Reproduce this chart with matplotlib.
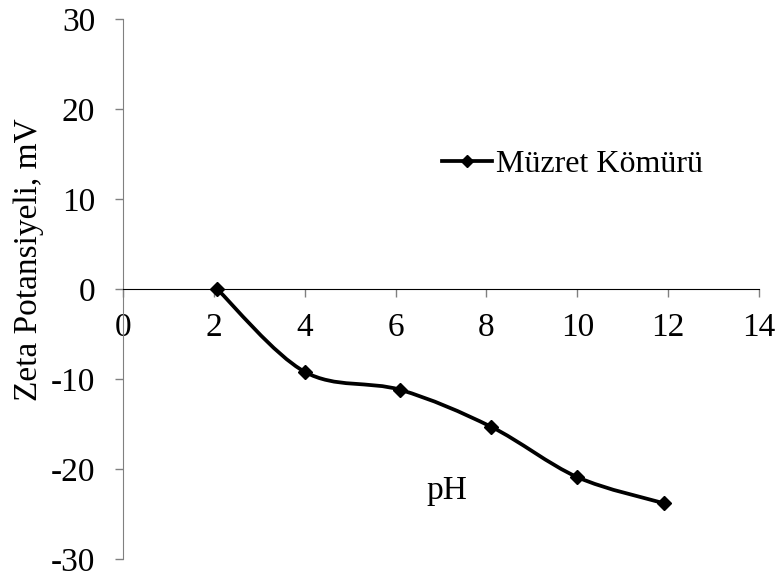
import numpy as np
import matplotlib
matplotlib.use("Agg")
import matplotlib.pyplot as plt
from matplotlib.path import Path
from matplotlib.patches import PathPatch
from matplotlib.lines import Line2D

plt.rcParams['font.family'] = ['Liberation Serif', 'DejaVu Serif']
plt.rcParams['axes.unicode_minus'] = False

# Zeta potansiyeli ölçümleri
ph = [2.07, 4.0, 6.1, 8.1, 10.0, 11.9]
zeta = [0.0, -9.2, -11.2, -15.3, -20.9, -23.8]
seri_adi = "Müzret Kömürü"

xticks = [0, 2, 4, 6, 8, 10, 12, 14]
yticks = [-30, -20, -10, 0, 10, 20, 30]


def smooth_path(x, y, t=1.0 / 6):
    # Excel benzeri yumuşatılmış çizgi (Bezier kontrol noktaları)
    x = np.asarray(x, float)
    y = np.asarray(y, float)
    n = len(x)
    verts = [(x[0], y[0])]
    codes = [Path.MOVETO]
    for i in range(n - 1):
        x0, y0 = (x[i - 1], y[i - 1]) if i > 0 else (x[i], y[i])
        x3, y3 = (x[i + 2], y[i + 2]) if i + 2 < n else (x[i + 1], y[i + 1])
        c1 = (x[i] + (x[i + 1] - x0) * t, y[i] + (y[i + 1] - y0) * t)
        c2 = (x[i + 1] - (x3 - x[i]) * t, y[i + 1] - (y3 - y[i]) * t)
        verts += [c1, c2, (x[i + 1], y[i + 1])]
        codes += [Path.CURVE4] * 3
    return Path(verts, codes)


fig = plt.figure(figsize=(7.76, 5.78), dpi=100)
ax = fig.add_axes([123 / 776, 19 / 578, (759 - 123) / 776, (559 - 19) / 578])

ax.add_patch(PathPatch(smooth_path(ph, zeta), facecolor='none',
                       edgecolor='black', lw=2.7, zorder=3))
ax.plot(ph, zeta, linestyle='none', marker='D', markersize=7,
        color='black', zorder=4)

ax.set_xlim(0, 14)
ax.set_ylim(-30, 30)

# x ekseni y=0 noktasından geçiyor
ax.spines['bottom'].set_position(('data', 0))
ax.spines['top'].set_visible(False)
ax.spines['right'].set_visible(False)
ax.spines['left'].set_color('#808080')
ax.spines['bottom'].set_color('black')

ax.set_xticks(xticks)
ax.set_yticks(yticks)
ax.tick_params(axis='x', direction='out', length=6, width=1, color='#808080',
               labelsize=24, pad=11)
ax.tick_params(axis='y', direction='out', length=6, width=1, color='#808080',
               labelsize=24, pad=14)

ax.set_ylabel("Zeta Potansiyeli, mV", fontsize=24)
ax.yaxis.set_label_coords(44 / 776, (578 - 260) / 578, transform=fig.transFigure)
ax.text(7.13, -23.3, "pH", fontsize=24, ha='center', va='baseline')

handle = Line2D([], [], color='black', lw=2.7, marker='D', markersize=6)
ax.legend([handle], [seri_adi], loc='center left',
          bbox_to_anchor=(442 / 776, 1 - 164 / 578),
          bbox_transform=fig.transFigure, frameon=False, fontsize=23,
          handlelength=1.55, handletextpad=0.15, borderaxespad=0,
          borderpad=0)

fig.savefig("out.png", dpi=100)
